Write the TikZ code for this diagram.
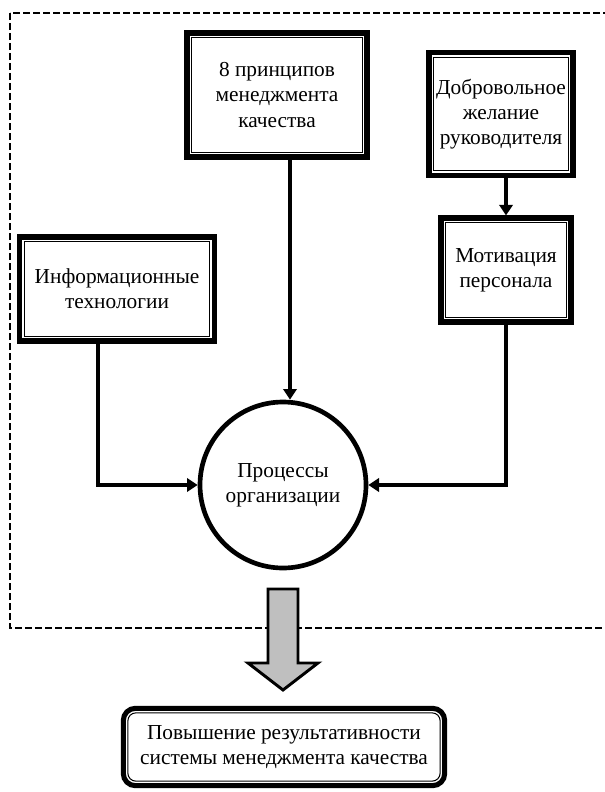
\documentclass[tikz,border=0pt]{standalone}
\usepackage{fontspec}
\setmainfont{Liberation Serif}
\usetikzlibrary{arrows.meta}

\begin{document}
\begin{tikzpicture}[x=0.75pt, y=-0.75pt, font=\fontsize{16}{19}\selectfont,
  box/.style={draw, line width=3.8pt, align=center, inner sep=0pt,
    path picture={\draw[line width=0.8pt] ([shift={(3.4pt,-3.4pt)}]path picture bounding box.north west) rectangle ([shift={(-3.4pt,3.4pt)}]path picture bounding box.south east);}},
  rbox/.style={draw, line width=3.8pt, align=center, inner sep=0pt, rounded corners=9pt,
    path picture={\draw[line width=0.8pt, rounded corners=6pt] ([shift={(3.4pt,-3.4pt)}]path picture bounding box.north west) rectangle ([shift={(-3.4pt,3.4pt)}]path picture bounding box.south east);}},
  arr/.style={-{Triangle[length=8pt, width=10pt]}, line width=2.6pt}]

\useasboundingbox (0,0) rectangle (604,792);
\draw[line width=1.1pt, dash pattern=on 5pt off 2.5pt] (10,13) rectangle (650,628);

\node[box, minimum width=135pt, minimum height=93pt] (princ) at (277,95) {8 принципов\\менеджмента\\качества};
\node[box, minimum width=108pt, minimum height=92pt] (vol) at (501,114) {Добровольное\\желание\\руководителя};
\node[box, minimum width=97.5pt, minimum height=78pt] (motiv) at (506,270) {Мотивация\\персонала};
\node[box, minimum width=146pt, minimum height=78pt] (info) at (117,289) {Информационные\\технологии};
\node[draw, circle, line width=3.5pt, minimum size=124.5pt, align=center] (proc) at (283,485) {Процессы\\организации};
\node[rbox, minimum width=241pt, minimum height=58pt] (res) at (284,747) {Повышение результативности\\системы менеджмента качества};

\draw[arr] ([xshift=9.75pt]princ.south) -- ([xshift=9.75pt]princ.south |- proc.north);
\draw[arr] (vol.south -| motiv.north) -- (motiv.north);
\draw[arr] ([xshift=-14.25pt]info.south) |- (proc.west);
\draw[arr] (motiv.south) |- (proc.east);

% big arrow to result
\draw[line width=2.2pt, fill=black!25, shift={(283,589)}] (-15,0) -- (15,0) -- (15,74) -- (35,74) -- (0,101) -- (-35,74) -- (-15,74) -- cycle;
\end{tikzpicture}
\end{document}
